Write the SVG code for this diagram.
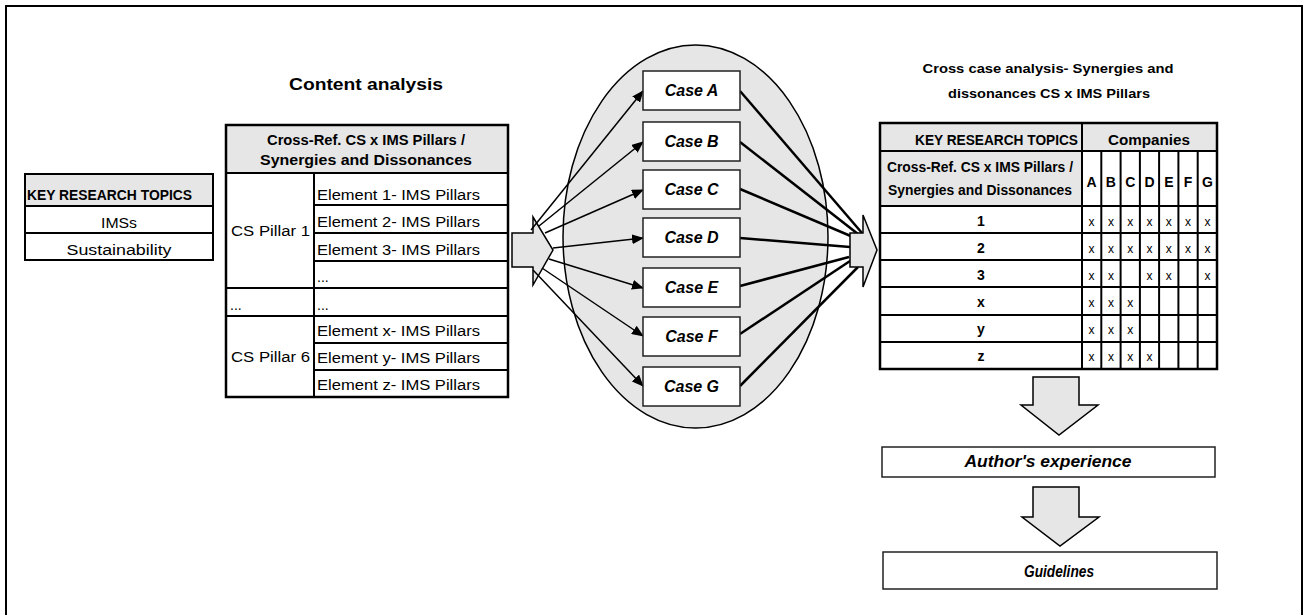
<svg xmlns="http://www.w3.org/2000/svg" width="1304" height="615" viewBox="0 0 1304 615">
<style>
text{font-family:"Liberation Sans",Arial,sans-serif;fill:#000}
.t{font-size:14px}
.b{font-weight:bold}
.bi{font-weight:bold;font-style:italic}
.c{text-anchor:middle}
.x{font-size:12px;text-anchor:middle}
.cell{fill:#fff;stroke:#000;stroke-width:2}
.gray{fill:#e6e6e6}
.ln{stroke:#000;stroke-width:2;fill:none}
.box{fill:#fff;stroke:#222;stroke-width:1.5}
.blk{fill:#e6e6e6;stroke:#000;stroke-width:1.5;stroke-linejoin:miter}
.arr{stroke:#000;stroke-width:1.5;fill:none}
.thick{stroke:#000;stroke-width:2.5;fill:none}
</style>
<defs>
<marker id="ah" markerWidth="12" markerHeight="10" refX="11" refY="5" orient="auto" markerUnits="userSpaceOnUse">
<path d="M0,0 L12,5 L0,10 Z" fill="#000"/>
</marker>
</defs>
<rect x="6" y="6" width="1296" height="620" fill="#fff" stroke="#000" stroke-width="2"/>

<g id="left-table">
<rect x="25" y="174" width="188" height="86" class="cell"/>
<rect x="26" y="175" width="186" height="31" class="gray"/>
<line x1="25" y1="206" x2="213" y2="206" class="ln"/>
<line x1="25" y1="233" x2="213" y2="233" class="ln"/>
<rect x="25" y="174" width="188" height="86" fill="none" stroke="#000" stroke-width="2"/>
<text x="27" y="200" class="t b" textLength="165" lengthAdjust="spacingAndGlyphs">KEY RESEARCH TOPICS</text>
<text x="119" y="228" class="t c" textLength="36" lengthAdjust="spacingAndGlyphs">IMSs</text>
<text x="119" y="255" class="t c" textLength="105" lengthAdjust="spacingAndGlyphs">Sustainability</text>
</g>

<g id="content-analysis">
<text x="366" y="90" class="b c" font-size="16" textLength="154" lengthAdjust="spacingAndGlyphs">Content analysis</text>
<rect x="226" y="125" width="282" height="272" class="cell"/>
<rect x="227" y="126" width="280" height="47" class="gray"/>
<line x1="226" y1="173" x2="508" y2="173" class="ln"/>
<line x1="314" y1="205" x2="508" y2="205" class="ln"/>
<line x1="314" y1="233" x2="508" y2="233" class="ln"/>
<line x1="314" y1="261" x2="508" y2="261" class="ln"/>
<line x1="226" y1="288" x2="508" y2="288" class="ln"/>
<line x1="226" y1="316" x2="508" y2="316" class="ln"/>
<line x1="314" y1="343" x2="508" y2="343" class="ln"/>
<line x1="314" y1="370" x2="508" y2="370" class="ln"/>
<line x1="314" y1="173" x2="314" y2="397" class="ln"/>
<rect x="226" y="125" width="282" height="272" fill="none" stroke="#000" stroke-width="2.5"/>
<text x="366" y="145" class="t b c" textLength="198" lengthAdjust="spacingAndGlyphs">Cross-Ref. CS x IMS Pillars /</text>
<text x="366" y="165" class="t b c" textLength="212" lengthAdjust="spacingAndGlyphs">Synergies and Dissonances</text>
<text x="231" y="236" class="t" textLength="79" lengthAdjust="spacingAndGlyphs">CS Pillar 1</text>
<text x="317" y="200" class="t" textLength="163" lengthAdjust="spacingAndGlyphs">Element 1- IMS Pillars</text>
<text x="317" y="227" class="t" textLength="163" lengthAdjust="spacingAndGlyphs">Element 2- IMS Pillars</text>
<text x="317" y="255" class="t" textLength="163" lengthAdjust="spacingAndGlyphs">Element 3- IMS Pillars</text>
<text x="317" y="282" class="t">...</text>
<text x="230" y="310" class="t">...</text>
<text x="317" y="310" class="t">...</text>
<text x="231" y="362" class="t" textLength="79" lengthAdjust="spacingAndGlyphs">CS Pillar 6</text>
<text x="317" y="336" class="t" textLength="163" lengthAdjust="spacingAndGlyphs">Element x- IMS Pillars</text>
<text x="317" y="363" class="t" textLength="163" lengthAdjust="spacingAndGlyphs">Element y- IMS Pillars</text>
<text x="317" y="390" class="t" textLength="163" lengthAdjust="spacingAndGlyphs">Element z- IMS Pillars</text>
</g>

<g id="block-arrow-left">
<path d="M512,233 H533 V217 L553,250 L533,285 V267 H512 Z" class="blk"/>
</g>

<g id="cases-ellipse">
<ellipse cx="695.5" cy="236.5" rx="132.5" ry="191.5" fill="#e6e6e6" stroke="#000" stroke-width="1.5"/>
</g>

<g id="connectors">
<line x1="531" y1="230" x2="643" y2="91" class="arr" marker-end="url(#ah)"/>
<line x1="539" y1="226" x2="643" y2="142" class="arr" marker-end="url(#ah)"/>
<line x1="545" y1="233" x2="643" y2="190" class="arr" marker-end="url(#ah)"/>
<line x1="553" y1="248" x2="643" y2="238" class="arr" marker-end="url(#ah)"/>
<line x1="549" y1="259" x2="643" y2="288" class="arr" marker-end="url(#ah)"/>
<line x1="542" y1="268" x2="643" y2="336" class="arr" marker-end="url(#ah)"/>
<line x1="533" y1="270" x2="643" y2="386" class="arr" marker-end="url(#ah)"/>
<line x1="740" y1="91" x2="862" y2="233" class="thick"/>
<line x1="740" y1="142" x2="858" y2="234" class="thick"/>
<line x1="740" y1="189" x2="853" y2="237" class="thick"/>
<line x1="740" y1="238" x2="850" y2="247" class="thick"/>
<line x1="740" y1="286" x2="849" y2="257" class="thick"/>
<line x1="740" y1="334" x2="850" y2="261" class="thick"/>
<line x1="740" y1="386" x2="858" y2="267" class="thick"/>
</g>

<g id="case-a"><rect x="643" y="71" width="97" height="39" class="box"/><text x="691.5" y="96" class="bi c" font-size="16">Case A</text></g>
<g id="case-b"><rect x="643" y="122" width="97" height="39" class="box"/><text x="691.5" y="147" class="bi c" font-size="16">Case B</text></g>
<g id="case-c"><rect x="643" y="170" width="97" height="39" class="box"/><text x="691.5" y="195" class="bi c" font-size="16">Case C</text></g>
<g id="case-d"><rect x="643" y="218" width="97" height="39" class="box"/><text x="691.5" y="243" class="bi c" font-size="16">Case D</text></g>
<g id="case-e"><rect x="643" y="268" width="97" height="39" class="box"/><text x="691.5" y="293" class="bi c" font-size="16">Case E</text></g>
<g id="case-f"><rect x="643" y="317" width="97" height="39" class="box"/><text x="691.5" y="342" class="bi c" font-size="16">Case F</text></g>
<g id="case-g"><rect x="643" y="367" width="97" height="39" class="box"/><text x="691.5" y="392" class="bi c" font-size="16">Case G</text></g>

<g id="block-arrow-right">
<path d="M850,233 H863 V215 L877,250 L863,287 V267 H850 Z" class="blk"/>
</g>

<g id="cross-case-table">
<text x="1048" y="73" class="b c" style="font-size:13px" textLength="251" lengthAdjust="spacingAndGlyphs">Cross case analysis-  Synergies and</text>
<text x="1049" y="98" class="b c" style="font-size:13px" textLength="202" lengthAdjust="spacingAndGlyphs">dissonances CS x IMS Pillars</text>
<rect x="880" y="123" width="337" height="246" class="cell"/>
<rect x="881" y="124" width="335" height="27" class="gray"/>
<rect x="881" y="151" width="201" height="55" class="gray"/>
<g class="ln">
<line x1="880" y1="151" x2="1217" y2="151"/>
<line x1="880" y1="206" x2="1217" y2="206"/>
<line x1="880" y1="233" x2="1217" y2="233"/>
<line x1="880" y1="260" x2="1217" y2="260"/>
<line x1="880" y1="287" x2="1217" y2="287"/>
<line x1="880" y1="315" x2="1217" y2="315"/>
<line x1="880" y1="342" x2="1217" y2="342"/>
<line x1="1082" y1="123" x2="1082" y2="369"/>
<line x1="1101.3" y1="151" x2="1101.3" y2="369"/>
<line x1="1120.6" y1="151" x2="1120.6" y2="369"/>
<line x1="1139.9" y1="151" x2="1139.9" y2="369"/>
<line x1="1159.1" y1="151" x2="1159.1" y2="369"/>
<line x1="1178.4" y1="151" x2="1178.4" y2="369"/>
<line x1="1197.7" y1="151" x2="1197.7" y2="369"/>
</g>
<rect x="880" y="123" width="337" height="246" fill="none" stroke="#000" stroke-width="2.5"/>
<text x="1078" y="145" class="t b" text-anchor="end" textLength="163" lengthAdjust="spacingAndGlyphs">KEY RESEARCH TOPICS</text>
<text x="1149" y="145" class="t b c" textLength="82" lengthAdjust="spacingAndGlyphs">Companies</text>
<text x="980" y="172" class="t b c" textLength="186" lengthAdjust="spacingAndGlyphs">Cross-Ref. CS x IMS Pillars /</text>
<text x="980" y="195" class="t b c" textLength="184" lengthAdjust="spacingAndGlyphs">Synergies and Dissonances</text>
<g class="t b">
<text x="1091.6" y="187" class="c">A</text>
<text x="1110.9" y="187" class="c">B</text>
<text x="1130.2" y="187" class="c">C</text>
<text x="1149.5" y="187" class="c">D</text>
<text x="1168.8" y="187" class="c">E</text>
<text x="1188.1" y="187" class="c">F</text>
<text x="1207.4" y="187" class="c">G</text>
<text x="981" y="226" class="c">1</text>
<text x="981" y="253" class="c">2</text>
<text x="981" y="280" class="c">3</text>
<text x="981" y="307" class="c">x</text>
<text x="981" y="334" class="c">y</text>
<text x="981" y="361" class="c">z</text>
</g>
<g>
<text x="1091.6" y="226" class="x">x</text><text x="1110.9" y="226" class="x">x</text><text x="1130.2" y="226" class="x">x</text><text x="1149.5" y="226" class="x">x</text><text x="1168.8" y="226" class="x">x</text><text x="1188.1" y="226" class="x">x</text><text x="1207.4" y="226" class="x">x</text>
<text x="1091.6" y="253" class="x">x</text><text x="1110.9" y="253" class="x">x</text><text x="1130.2" y="253" class="x">x</text><text x="1149.5" y="253" class="x">x</text><text x="1168.8" y="253" class="x">x</text><text x="1188.1" y="253" class="x">x</text><text x="1207.4" y="253" class="x">x</text>
<text x="1091.6" y="280" class="x">x</text><text x="1110.9" y="280" class="x">x</text><text x="1149.5" y="280" class="x">x</text><text x="1168.8" y="280" class="x">x</text><text x="1207.4" y="280" class="x">x</text>
<text x="1091.6" y="307" class="x">x</text><text x="1110.9" y="307" class="x">x</text><text x="1130.2" y="307" class="x">x</text>
<text x="1091.6" y="334" class="x">x</text><text x="1110.9" y="334" class="x">x</text><text x="1130.2" y="334" class="x">x</text>
<text x="1091.6" y="361" class="x">x</text><text x="1110.9" y="361" class="x">x</text><text x="1130.2" y="361" class="x">x</text><text x="1149.5" y="361" class="x">x</text>
</g>
</g>

<g id="down-arrow-1">
<path d="M1033,377 H1079 V405 H1098 L1059,435 L1021,405 H1033 Z" class="blk"/>
</g>
<g id="authors-experience">
<rect x="882" y="447" width="333" height="30" class="box"/>
<text x="1048" y="467" class="bi c" font-size="16" textLength="167" lengthAdjust="spacingAndGlyphs">Author's experience</text>
</g>
<g id="down-arrow-2">
<path d="M1033,487 H1079 V517 H1099 L1060,546 L1022,517 H1033 Z" class="blk"/>
</g>
<g id="guidelines">
<rect x="883" y="552" width="334" height="37" class="box"/>
<text x="1059" y="577" class="bi c" font-size="16" textLength="70" lengthAdjust="spacingAndGlyphs">Guidelines</text>
</g>
</svg>
